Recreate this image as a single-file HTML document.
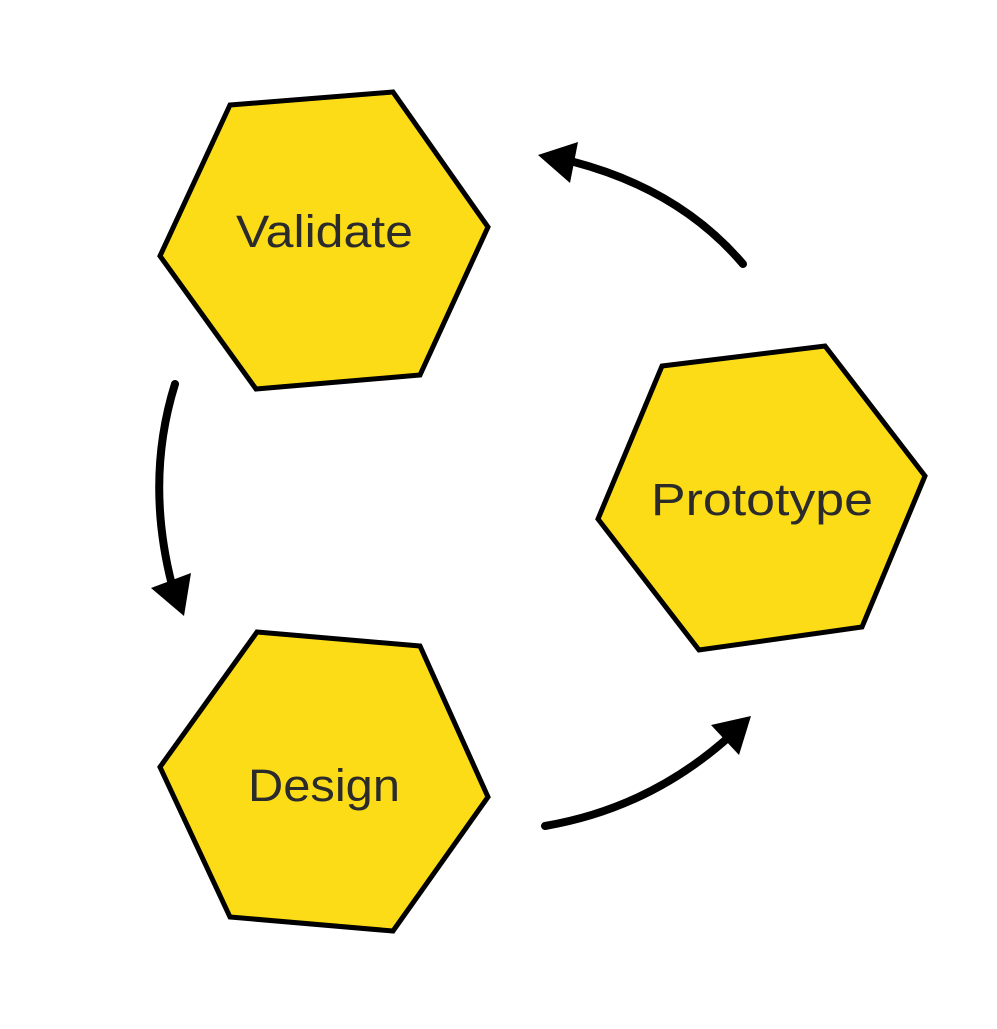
<!DOCTYPE html>
<html><head><style>html,body{margin:0;padding:0;background:#fff;}</style></head>
<body>
<svg width="997" height="1024" viewBox="0 0 997 1024" xmlns="http://www.w3.org/2000/svg">
<g fill="#FCDC17" stroke="#000" stroke-width="5" stroke-linejoin="miter">
<polygon points="230,105 393,92 488,227 420,375 256,389 160,256"/>
<polygon points="662,366 825,346 925,476 862,627 699,650 598,519"/>
<polygon points="257,632 420,646 488,797 393,931 230,917 160,767"/>
</g>
<g font-family="'Liberation Sans',sans-serif" font-size="45" fill="#2b2b2b">
<text x="236" y="247" textLength="177" lengthAdjust="spacingAndGlyphs">Validate</text>
<text x="651" y="515" textLength="222" lengthAdjust="spacingAndGlyphs">Prototype</text>
<text x="248" y="801" textLength="152" lengthAdjust="spacingAndGlyphs">Design</text>
</g>
<g fill="none" stroke="#000" stroke-width="8" stroke-linecap="round">
<path d="M743,264 Q680,190 574,162"/>
<path d="M175,384 Q145,480 172,585"/>
<path d="M545,826 Q650,808 730,736"/>
</g>
<g fill="#000">
<polygon points="538,155 578,142 570,183"/>
<polygon points="184,616 151,588 191,573"/>
<polygon points="751,716 711,725 739,755"/>
</g>
</svg>
</body></html>
